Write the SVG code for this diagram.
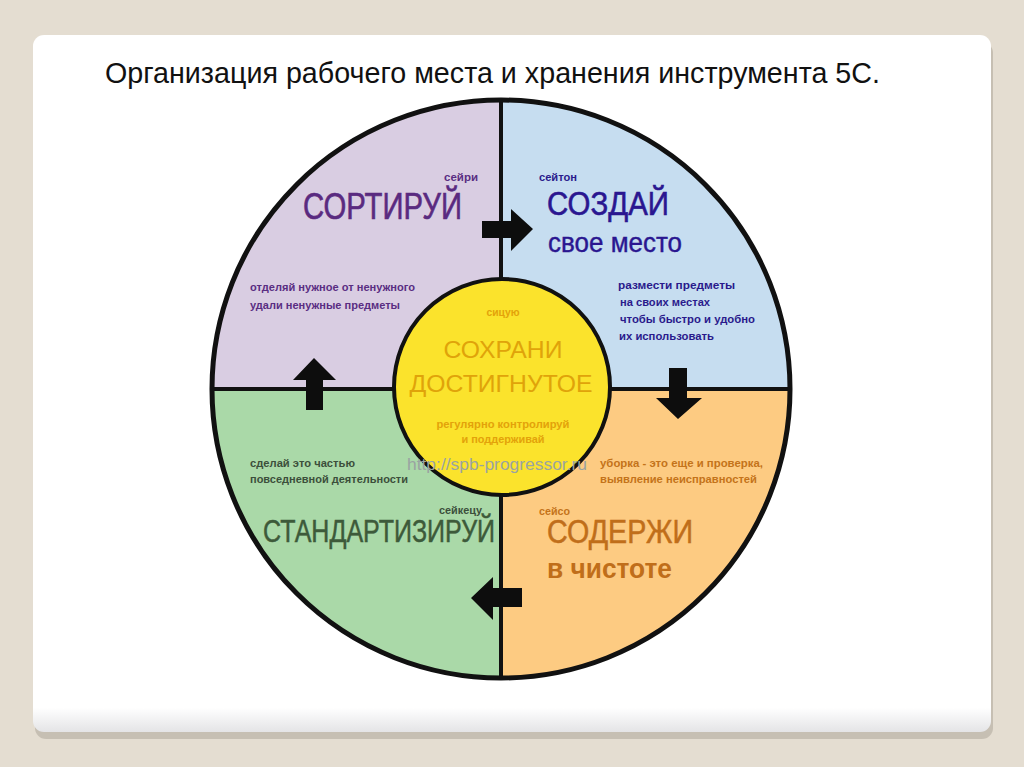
<svg xmlns="http://www.w3.org/2000/svg" width="1024" height="767" viewBox="0 0 1024 767">
  <defs>
    <linearGradient id="cardShade" x1="0" y1="0" x2="0" y2="1">
      <stop offset="0.965" stop-color="#ffffff"/>
      <stop offset="1" stop-color="#e4e4e6"/>
    </linearGradient>
    <style>
      .big { font-family: "Liberation Sans", Arial, sans-serif; }
      .small { font-family: "Liberation Sans", Arial, sans-serif; font-weight: bold; font-size: 11px; }
      .tiny { font-family: "Liberation Sans", Arial, sans-serif; font-weight: bold; font-size: 10px; }
      .sep { stroke: #111; stroke-width: 4; fill: none; }
      .arrow { fill: #0d0d0d; }
    </style>
  </defs>
  <rect x="0" y="0" width="1024" height="767" fill="#e4ddd1"/>
  <rect x="35" y="42" width="958" height="697" rx="11" fill="#b9b2a6" opacity="0.7"/>
  <rect x="33" y="35" width="958" height="697" rx="11" fill="url(#cardShade)"/>
  <text x="105" y="83" class="big" font-size="29" fill="#111" textLength="775" lengthAdjust="spacingAndGlyphs">Организация рабочего места и хранения инструмента 5С.</text>

  <g id="sort">
    <path d="M501,389 L212,389 A289,289 0 0 1 501,100 Z" fill="#d9cde2"/>
    <text x="444" y="181" class="tiny" fill="#5a2d82" textLength="34" lengthAdjust="spacingAndGlyphs">сейри</text>
    <text x="303" y="219" class="big" font-size="36" fill="#5a2a80" stroke="#5a2a80" stroke-width="0.6" textLength="159" lengthAdjust="spacingAndGlyphs">СОРТИРУЙ</text>
    <text x="250" y="291" class="small" fill="#5a2d82" textLength="165" lengthAdjust="spacingAndGlyphs">отделяй нужное от ненужного</text>
    <text x="250" y="309" class="small" fill="#5a2d82" textLength="150" lengthAdjust="spacingAndGlyphs">удали ненужные предметы</text>
  </g>

  <g id="create">
    <path d="M501,389 L501,100 A289,289 0 0 1 790,389 Z" fill="#c6ddf0"/>
    <text x="539" y="181" class="tiny" fill="#2a1a8c" textLength="38" lengthAdjust="spacingAndGlyphs">сейтон</text>
    <text x="547" y="215" class="big" font-size="34" fill="#2a1690" stroke="#2a1690" stroke-width="0.6" textLength="122" lengthAdjust="spacingAndGlyphs">СОЗДАЙ</text>
    <text x="548" y="252" class="big" font-size="27" fill="#2a1690" stroke="#2a1690" stroke-width="0.4" textLength="134" lengthAdjust="spacingAndGlyphs">свое место</text>
    <text x="618" y="289" class="small" fill="#2a1a8c" textLength="117" lengthAdjust="spacingAndGlyphs">размести предметы</text>
    <text x="620" y="306" class="small" fill="#2a1a8c" textLength="90" lengthAdjust="spacingAndGlyphs">на своих местах</text>
    <text x="620" y="323" class="small" fill="#2a1a8c" textLength="135" lengthAdjust="spacingAndGlyphs">чтобы быстро и удобно</text>
    <text x="619" y="340" class="small" fill="#2a1a8c" textLength="95" lengthAdjust="spacingAndGlyphs">их использовать</text>
  </g>

  <g id="clean">
    <path d="M501,389 L790,389 A289,289 0 0 1 501,678 Z" fill="#fdcb82"/>
    <text x="600" y="467" class="small" fill="#c4731a" textLength="163" lengthAdjust="spacingAndGlyphs">уборка - это еще и проверка,</text>
    <text x="600" y="483" class="small" fill="#c4731a" textLength="157" lengthAdjust="spacingAndGlyphs">выявление неисправностей</text>
    <text x="539" y="515" class="tiny" fill="#c4731a" textLength="31" lengthAdjust="spacingAndGlyphs">сейсо</text>
    <text x="547" y="543" class="big" font-size="33" fill="#c06e1a" stroke="#c06e1a" stroke-width="0.5" textLength="146" lengthAdjust="spacingAndGlyphs">СОДЕРЖИ</text>
    <text x="547" y="578" class="big" font-size="28" font-weight="bold" fill="#c06e1a" textLength="125" lengthAdjust="spacingAndGlyphs">в чистоте</text>
  </g>

  <g id="standardize">
    <path d="M501,389 L501,678 A289,289 0 0 1 212,389 Z" fill="#aad9a8"/>
    <text x="250" y="467" class="small" fill="#3c4f3b" textLength="105" lengthAdjust="spacingAndGlyphs">сделай это частью</text>
    <text x="250" y="483" class="small" fill="#3c4f3b" textLength="158" lengthAdjust="spacingAndGlyphs">повседневной деятельности</text>
    <text x="439" y="514" class="tiny" fill="#3c4f3b" textLength="43" lengthAdjust="spacingAndGlyphs">сейкецу</text>
    <text x="263" y="542" class="big" font-size="32" fill="#3d5a3a" stroke="#3d5a3a" stroke-width="0.5" textLength="232" lengthAdjust="spacingAndGlyphs">СТАНДАРТИЗИРУЙ</text>
  </g>

  <g id="frame">
    <line x1="501" y1="100" x2="501" y2="678" class="sep"/>
    <line x1="212" y1="389" x2="790" y2="389" class="sep"/>
    <circle cx="501" cy="389" r="289" fill="none" stroke="#111" stroke-width="5"/>
  </g>

  <g id="sustain">
    <circle cx="502" cy="387" r="108" fill="#fbe32c" stroke="#111" stroke-width="4"/>
    <text x="503" y="316" class="tiny" fill="#e3a20a" text-anchor="middle" textLength="33" lengthAdjust="spacingAndGlyphs">сицую</text>
    <text x="503" y="358" class="big" font-size="24" fill="#e0a30a" text-anchor="middle" textLength="119" lengthAdjust="spacingAndGlyphs">СОХРАНИ</text>
    <text x="501" y="392" class="big" font-size="24" fill="#e0a30a" text-anchor="middle" textLength="183" lengthAdjust="spacingAndGlyphs">ДОСТИГНУТОЕ</text>
    <text x="503" y="428" class="small" fill="#e3a20a" text-anchor="middle" textLength="133" lengthAdjust="spacingAndGlyphs">регулярно контролируй</text>
    <text x="503" y="443" class="small" fill="#e3a20a" text-anchor="middle" textLength="83" lengthAdjust="spacingAndGlyphs">и поддерживай</text>
    <text x="407" y="470" class="big" font-size="17" fill="#9aa3a2" textLength="180" lengthAdjust="spacingAndGlyphs">http://spb-progressor.ru</text>
  </g>

  <g id="connectors">
    <polygon class="arrow" points="482,221 511,221 511,209 533,229 511,251 511,238 482,238"/>
    <polygon class="arrow" points="669,368 687,368 687,398 702,398 678,419 656,398 669,398"/>
    <polygon class="arrow" points="306,410 306,380 293,380 314,358 336,380 323,380 323,410"/>
    <polygon class="arrow" points="522,588 493,588 493,577 471,598 493,620 493,607 522,607"/>
  </g>
</svg>
